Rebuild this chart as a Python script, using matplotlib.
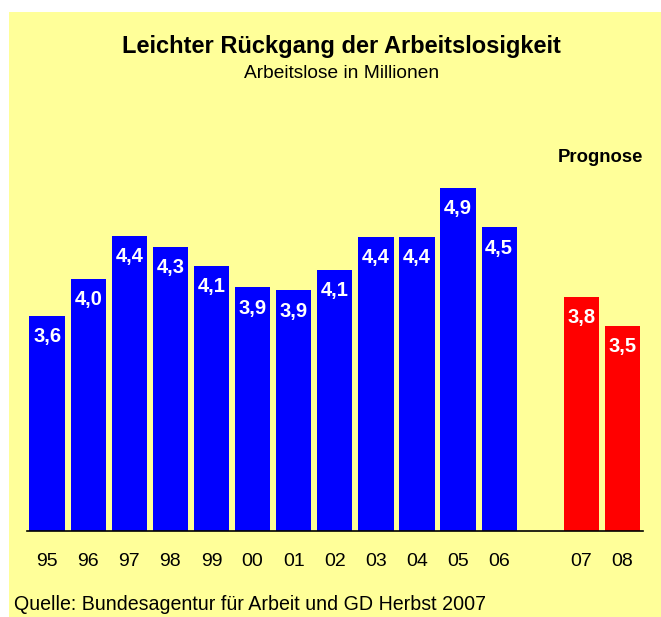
import matplotlib.pyplot as plt
from matplotlib.patches import Rectangle

plt.rcParams['font.family'] = ['Liberation Sans', 'DejaVu Sans']

years = ['95', '96', '97', '98', '99', '00', '01', '02', '03', '04', '05', '06']
values = [3.6, 3.98, 4.41, 4.30, 4.11, 3.89, 3.86, 4.07, 4.40, 4.40, 4.9, 4.5]
prog_years = ['07', '08']
prog_values = [3.79, 3.5]

W, H = 661, 617
fig = plt.figure(figsize=(W / 100, H / 100), dpi=100, facecolor='white')
fig.patches.append(Rectangle((9 / W, 0), 1 - 9 / W, 1 - 12 / H, transform=fig.transFigure,
                             facecolor='#FFFF99', edgecolor='none', zorder=-10))

ax = fig.add_axes([27 / W, (H - 531) / H, (643 - 27) / W, (531 - 130) / H])
ax.set_facecolor('none')

xs = list(range(len(years)))
xp = [len(years) + 1 + i for i in range(len(prog_years))]

ax.bar(xs, values, width=0.86, color='#0000FF', zorder=2)
ax.bar(xp, prog_values, width=0.86, color='#FF0000', zorder=2)

for x, v in zip(xs + xp, values + prog_values):
    ax.text(x, v - 0.21, f'{v:.1f}'.replace('.', ','), ha='center', va='center',
            color='white', fontsize=14.5, fontweight='bold', zorder=3)

ax.set_xticks(xs + xp)
ax.set_xticklabels(years + prog_years, fontsize=14)
ax.tick_params(axis='x', length=0, pad=16)
ax.set_yticks([])
ax.set_xlim(-0.49, 14.5)
ax.set_ylim(1.417, 5.488)
for s in ['top', 'left', 'right']:
    ax.spines[s].set_visible(False)
ax.spines['bottom'].set_linewidth(1.2)
ax.spines['bottom'].set_color('black')

fig.text(341 / W, 1 - 47 / H, 'Leichter Rückgang der Arbeitslosigkeit', ha='center', va='center',
         fontsize=17, fontweight='bold')
fig.text(342 / W, 1 - 73 / H, 'Arbeitslose in Millionen', ha='center', va='center', fontsize=13.8)
fig.text(643 / W, 1 - 157 / H, 'Prognose', ha='right', va='center', fontsize=13.3, fontweight='bold')
fig.text(14 / W, 1 - 604 / H, 'Quelle: Bundesagentur für Arbeit und GD Herbst 2007', ha='left',
         va='center', fontsize=14.1)

fig.savefig('out.png', dpi=100, facecolor=fig.get_facecolor())
